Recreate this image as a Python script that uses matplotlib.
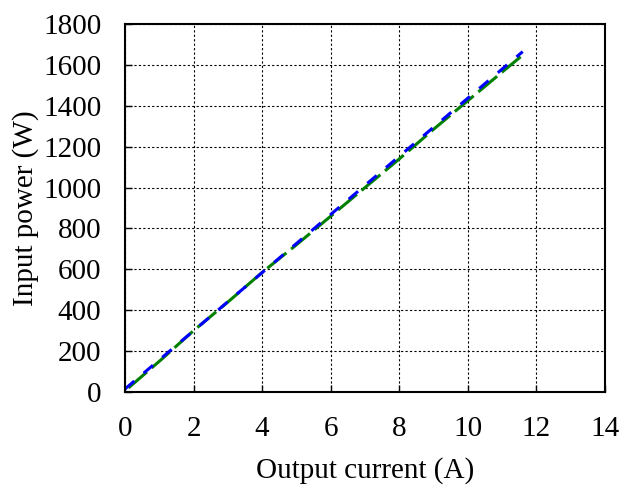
import matplotlib
matplotlib.use("Agg")
import matplotlib.pyplot as plt

# measured input power vs output current
current = [0.1, 1.0, 2.0, 3.0, 4.0, 5.0, 6.0, 7.0, 8.0, 9.0, 10.0, 11.0, 11.6]
power_meas = [20, 150, 300, 440, 585, 720, 860, 1000, 1140, 1285, 1425, 1565, 1648]

# model / fit
current_fit = [0.0, 11.6]
power_fit = [15, 1665]

plt.rcParams['font.family'] = ['Liberation Serif', 'DejaVu Serif']

fig = plt.figure(figsize=(6.22, 4.95), dpi=100)
ax = fig.add_axes([125/622, 1-392/495, 480/622, 368/495])

ax.plot(current, power_meas, color='green', linestyle=(0, (8, 2)), linewidth=2.2)
ax.plot(current_fit, power_fit, color='blue', linestyle=(0, (4, 4)), linewidth=2.2)

ax.set_xlim(0, 14)
ax.set_ylim(0, 1800)
ax.set_xticks(range(0, 15, 2))
ax.set_yticks(range(0, 1801, 200))
ax.grid(True, color='black', linestyle=(0, (2, 2)), linewidth=0.8)
ax.tick_params(direction='in', length=5, width=1, labelsize=21)
ax.tick_params(axis='x', pad=17)
ax.tick_params(axis='y', pad=17)
for s in ax.spines.values():
    s.set_linewidth(1.5)

ax.set_xlabel('Output current (A)', fontsize=21, labelpad=11)
ax.set_ylabel('Input power (W)', fontsize=21, labelpad=3)

plt.savefig('out.png', dpi=100)
